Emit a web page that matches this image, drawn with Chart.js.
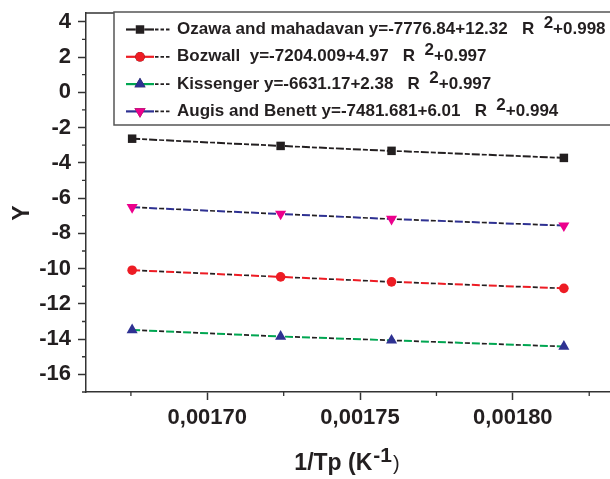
<!DOCTYPE html>
<html>
<head>
<meta charset="utf-8">
<script src="https://cdn.jsdelivr.net/npm/chart.js@4/dist/chart.umd.min.js"></script>
<style>
  html, body { margin: 0; padding: 0; background: #fff; }
  #wrap { width: 610px; height: 479px; }
</style>
</head>
<body>
<div id="wrap"><canvas id="chart" width="610" height="479"></canvas></div>
<script>
// 1/Tp values (K^-1) and ln-type Y values for each kinetic method
const invTp     = [0.0016754, 0.0017240, 0.0017603, 0.0018167];
const ozawa     = [-2.63, -3.04, -3.32, -3.72];
const bozwall   = [-10.09, -10.47, -10.75, -11.12];
const kissenger = [-13.48, -13.85, -14.07, -14.42];
const augis     = [-6.52, -6.90, -7.19, -7.56];

const yTicks = [-16, -14, -12, -10, -8, -6, -4, -2, 0, 2, 4];
const yMinor = [-17, -15, -13, -11, -9, -7, -5, -3, -1, 1, 3];
const xTicks = [0.00170, 0.00175, 0.00180];
const xTickLabels = ['0,00170', '0,00175', '0,00180'];
const xMinor = [0.001675, 0.001725, 0.001775, 0.001825];

const seriesNames = ['Ozawa and mahadavan', 'Bozwall ', 'Kissenger', 'Augis and Benett'];
const fitEq = ['y=-7776.84+12.32', 'y=-7204.009+4.97', 'y=-6631.17+2.38', 'y=-7481.681+6.01'];
const r2 = ['+0.998', '+0.997', '+0.997', '+0.994'];

const INK = '#231f20';
const FONT = '"Liberation Sans", Arial, sans-serif';

// line colour, marker colour, marker style, rotation
const styles = [
  { line: '#231f20', mark: '#231f20', shape: 'rect',     rot: 0,   r: 6.0 },
  { line: '#ed1c24', mark: '#ed1c24', shape: 'circle',   rot: 0,   r: 4.8 },
  { line: '#00a651', mark: '#2e3192', shape: 'triangle', rot: 0,   r: 6.4 },
  { line: '#2e3192', mark: '#ec008c', shape: 'triangle', rot: 180, r: 6.4 },
];
const seriesData = [ozawa, bozwall, kissenger, augis];

const datasets = [];
seriesData.forEach((vals, i) => {
  const s = styles[i];
  datasets.push({
    data: vals.map((y, k) => ({ x: invTp[k], y })),
    borderColor: s.line,
    borderWidth: 2,
    borderDash: [8, 9],
    pointStyle: s.shape,
    pointRotation: s.rot,
    pointRadius: s.r,
    pointBackgroundColor: s.mark,
    pointBorderColor: s.mark,
    pointBorderWidth: 0,
    tension: 0,
    order: 1,
  });
});
// black dashed companion line through the same points
seriesData.forEach((vals) => {
  datasets.push({
    data: vals.map((y, k) => ({ x: invTp[k], y })),
    borderColor: INK,
    borderWidth: 1.7,
    borderDash: [5, 12],
    borderDashOffset: -10,
    pointRadius: 0,
    tension: 0,
    order: 2,
  });
});

const decor = {
  id: 'decor',
  afterDraw(chart) {
    const { ctx, chartArea: a, scales: { x, y } } = chart;
    ctx.save();
    // frame top
    ctx.strokeStyle = '#333';
    ctx.lineWidth = 1.5;
    ctx.beginPath();
    ctx.moveTo(a.left, a.top);
    ctx.lineTo(a.right, a.top);
    ctx.stroke();

    // minor ticks
    ctx.lineWidth = 1.3;
    ctx.beginPath();
    yMinor.forEach(v => {
      const py = y.getPixelForValue(v);
      ctx.moveTo(a.left - 4, py);
      ctx.lineTo(a.left, py);
    });
    xMinor.forEach(v => {
      const px = x.getPixelForValue(v);
      ctx.moveTo(px, a.bottom);
      ctx.lineTo(px, a.bottom + 4);
    });
    ctx.stroke();

    // legend box
    const bx = 114, by = 12, bh = 113;
    ctx.fillStyle = '#fff';
    ctx.fillRect(bx, by, a.right - bx + 5, bh);
    ctx.strokeStyle = '#555';
    ctx.lineWidth = 1.5;
    ctx.strokeRect(bx, by, a.right - bx + 5, bh);

    seriesNames.forEach((name, i) => {
      const s = styles[i];
      const cy = 29.5 + i * 27.3;
      ctx.strokeStyle = s.line;
      ctx.lineWidth = 2.2;
      ctx.setLineDash([]);
      ctx.beginPath();
      ctx.moveTo(126, cy);
      ctx.lineTo(154, cy);
      ctx.stroke();
      ctx.strokeStyle = INK;
      ctx.lineWidth = 1.8;
      ctx.setLineDash([3.5, 2]);
      ctx.beginPath();
      ctx.moveTo(155, cy);
      ctx.lineTo(171, cy);
      ctx.stroke();
      ctx.setLineDash([]);
      Chart.helpers.drawPoint(ctx, {
        pointStyle: s.shape, rotation: s.rot, radius: s.r, borderWidth: 0
      }, 140, cy);
      ctx.fillStyle = s.mark;
      ctx.fill();

      ctx.fillStyle = INK;
      ctx.font = 'bold 17px ' + FONT;
      ctx.textBaseline = 'middle';
      ctx.textAlign = 'left';
      const main = name + ' ' + fitEq[i] + '   R  ';
      ctx.fillText(main, 177, cy);
      let tx = 177 + ctx.measureText(main).width;
      ctx.fillText('2', tx, cy - 6);
      tx += ctx.measureText('2').width;
      ctx.fillText(r2[i], tx, cy);
    });

    // axis titles
    ctx.fillStyle = INK;
    ctx.textBaseline = 'alphabetic';
    ctx.font = 'bold 23px ' + FONT;
    ctx.save();
    ctx.translate(29, 213);
    ctx.rotate(-Math.PI / 2);
    ctx.textAlign = 'center';
    ctx.fillText('Y', 0, 0);
    ctx.restore();

    ctx.textAlign = 'left';
    const t1 = '1/Tp (K';
    const sup = '-1';
    ctx.font = 'bold 23px ' + FONT;
    const w1 = ctx.measureText(t1).width;
    ctx.font = 'bold 21px ' + FONT;
    const w2 = ctx.measureText(sup).width;
    ctx.font = '20px ' + FONT;
    const w3 = ctx.measureText(')').width;
    let tx = 347 - (w1 + w2 + w3 + 2) / 2;
    ctx.font = 'bold 23px ' + FONT;
    ctx.fillText(t1, tx, 470);
    tx += w1 + 1;
    ctx.font = 'bold 21px ' + FONT;
    ctx.fillText(sup, tx, 462);
    tx += w2 + 1;
    ctx.font = '20px ' + FONT;
    ctx.fillText(')', tx, 470);
    ctx.restore();
  }
};

new Chart(document.getElementById('chart'), {
  type: 'line',
  data: { datasets },
  options: {
    responsive: false,
    animation: false,
    layout: { autoPadding: false, padding: { top: 13, right: 0, left: 0, bottom: 0 } },
    plugins: { legend: { display: false }, tooltip: { enabled: false } },
    scales: {
      x: {
        type: 'linear',
        min: 0.0016603,
        max: 0.0018318,
        afterBuildTicks: (scale) => { scale.ticks = xTicks.map(v => ({ value: v })); },
        afterFit: (scale) => {
          scale.height = 87;
          scale.paddingLeft = 0;
          scale.paddingRight = 0;
        },
        ticks: {
          callback: (v, i) => xTickLabels[i],
          color: INK,
          font: { family: FONT, size: 22, weight: 'bold' },
          padding: 5,
          maxRotation: 0,
        },
        grid: { drawOnChartArea: false, drawTicks: true, tickLength: 8, tickWidth: 1.5, tickColor: '#333' },
        border: { color: '#333', width: 1.5 },
      },
      y: {
        min: -17,
        max: 4.5,
        afterBuildTicks: (scale) => { scale.ticks = yTicks.map(v => ({ value: v })); },
        afterFit: (scale) => {
          scale.width = 86;
          scale.paddingTop = 0;
          scale.paddingBottom = 0;
        },
        ticks: {
          color: INK,
          font: { family: FONT, size: 22, weight: 'bold' },
          padding: 7,
        },
        grid: { drawOnChartArea: false, drawTicks: true, tickLength: 8, tickWidth: 1.5, tickColor: '#333' },
        border: { color: '#333', width: 1.5 },
      },
    },
  },
  plugins: [decor],
});
</script>
</body>
</html>
